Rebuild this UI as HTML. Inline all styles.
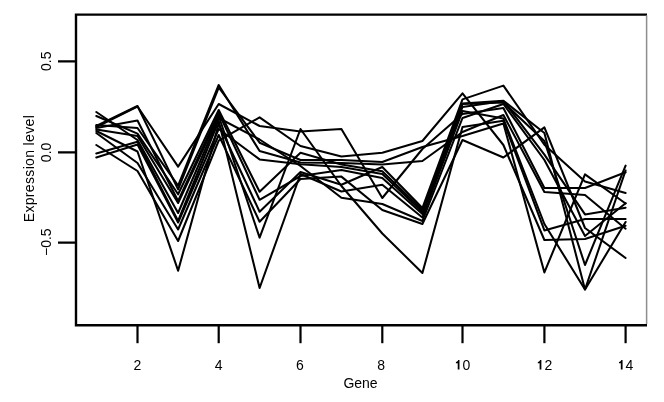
<!DOCTYPE html>
<html><head><meta charset="utf-8"><style>
html,body{margin:0;padding:0;background:#fff;}
body{width:664px;height:402px;overflow:hidden;position:relative;font-family:"Liberation Sans",sans-serif;}
svg{position:absolute;left:0;top:0;filter:grayscale(1);}
</style></head><body>
<svg width="664" height="402" viewBox="0 0 664 402">
<rect x="0" y="0" width="664" height="402" fill="#fff"/>
<g fill="none" stroke="#000" stroke-width="2.05" stroke-linejoin="round" stroke-linecap="round">
<polyline points="96.3,112.0 137.5,140.0 178.1,213.0 218.7,118.0 259.6,139.5 300.5,166.0 341.4,197.7 382.3,204.0 422.4,221.0 462.5,118.0 503.4,104.0 544.4,160.0 585.0,236.0 625.6,203.2"/>
<polyline points="96.3,116.0 137.5,133.6 178.1,194.3 218.7,110.0 259.6,191.8 300.5,152.7 341.4,164.6 382.3,171.3 422.4,210.0 462.5,103.5 503.4,100.7 544.4,133.0 585.0,289.5 625.6,170.5"/>
<polyline points="96.3,125.0 137.5,128.0 178.1,185.6 218.7,85.0 259.6,151.0 300.5,162.4 341.4,163.0 382.3,164.6 422.4,161.0 462.5,132.0 503.4,115.0 544.4,192.0 585.0,195.0 625.6,228.7"/>
<polyline points="96.3,126.0 137.5,106.0 178.1,189.4 218.7,87.5 259.6,142.7 300.5,160.0 341.4,160.0 382.3,162.0 422.4,147.0 462.5,136.0 503.4,123.5 544.4,272.4 585.0,174.4 625.6,203.5"/>
<polyline points="96.3,127.0 137.5,106.5 178.1,166.6 218.7,104.0 259.6,126.0 300.5,131.5 341.4,129.0 382.3,198.0 422.4,149.0 462.5,114.0 503.4,108.0 544.4,188.0 585.0,188.0 625.6,172.3"/>
<polyline points="96.3,128.0 137.5,120.5 178.1,201.0 218.7,113.0 259.6,199.8 300.5,176.0 341.4,170.0 382.3,178.0 422.4,214.0 462.5,107.0 503.4,101.0 544.4,154.6 585.0,214.4 625.6,207.7"/>
<polyline points="96.3,129.5 137.5,136.0 178.1,203.0 218.7,116.0 259.6,237.6 300.5,129.0 341.4,186.0 382.3,233.5 422.4,273.0 462.5,127.0 503.4,120.7 544.4,230.4 585.0,219.0 625.6,219.0"/>
<polyline points="96.3,131.0 137.5,151.5 178.1,270.7 218.7,124.0 259.6,211.7 300.5,172.0 341.4,184.8 382.3,167.0 422.4,208.0 462.5,99.4 503.4,85.6 544.4,144.7 585.0,181.6 625.6,193.0"/>
<polyline points="96.3,133.0 137.5,163.0 178.1,229.5 218.7,135.0 259.6,221.7 300.5,179.0 341.4,176.6 382.3,210.0 422.4,224.0 462.5,140.0 503.4,157.5 544.4,127.3 585.0,228.0 625.6,258.0"/>
<polyline points="96.3,145.0 137.5,171.0 178.1,241.0 218.7,140.6 259.6,117.4 300.5,146.0 341.4,156.4 382.3,152.7 422.4,141.0 462.5,93.4 503.4,145.0 544.4,240.0 585.0,239.0 625.6,225.7"/>
<polyline points="96.3,153.5 137.5,141.8 178.1,221.0 218.7,121.0 259.6,288.0 300.5,174.0 341.4,191.5 382.3,184.7 422.4,217.5 462.5,111.0 503.4,118.6 544.4,224.0 585.0,289.5 625.6,222.0"/>
<polyline points="96.3,157.5 137.5,144.6 178.1,222.5 218.7,129.0 259.6,159.4 300.5,164.3 341.4,167.0 382.3,174.0 422.4,212.0 462.5,104.0 503.4,102.4 544.4,141.0 585.0,265.0 625.6,165.6"/>
</g>
<g fill="none" stroke="#000" stroke-width="2.4">
<path d="M647,325.3 H76 V14.6 H647"/>
</g>
<path d="M646.6,15.5 V324" stroke="#8e8e8e" stroke-width="1.5" fill="none"/>
<g stroke="#000" stroke-width="2.2" fill="none">
<path d="M58,61.4 H76 M58,152.3 H76 M58,242.6 H76"/>
<path d="M137.5,325 V343.2"/> <path d="M218.7,325 V343.2"/> <path d="M300.5,325 V343.2"/> <path d="M382.3,325 V343.2"/> <path d="M462.5,325 V343.2"/> <path d="M544.4,325 V343.2"/> <path d="M625.6,325 V343.2"/>
</g>
<g style="font-family:'Liberation Sans',sans-serif" font-size="14" fill="#000">
<text x="137.5" y="369.8" text-anchor="middle">2</text> <text x="218.7" y="369.8" text-anchor="middle">4</text> <text x="300.0" y="369.8" text-anchor="middle">6</text> <text x="381.1" y="369.8" text-anchor="middle">8</text>
<text x="462.50" y="369.8">0</text><path transform="translate(454.72,369.6)" d="M3.0,0 L4.75,0 L4.75,-9.5 L3.45,-9.5 C3.2,-8.3 2.5,-7.7 1.2,-7.6 L1.2,-6.4 L3.0,-6.4 Z"/> <text x="544.40" y="369.8">2</text><path transform="translate(536.62,369.6)" d="M3.0,0 L4.75,0 L4.75,-9.5 L3.45,-9.5 C3.2,-8.3 2.5,-7.7 1.2,-7.6 L1.2,-6.4 L3.0,-6.4 Z"/> <text x="625.60" y="369.8">4</text><path transform="translate(617.82,369.6)" d="M3.0,0 L4.75,0 L4.75,-9.5 L3.45,-9.5 C3.2,-8.3 2.5,-7.7 1.2,-7.6 L1.2,-6.4 L3.0,-6.4 Z"/>
<text x="360.5" y="387.5" text-anchor="middle">Gene</text>
<text transform="translate(51,61.2) rotate(-90)" text-anchor="middle">0.5</text>
<text transform="translate(51,152.4) rotate(-90)" text-anchor="middle">0.0</text>
<text transform="translate(51,242.2) rotate(-90)" text-anchor="middle">&#8722;0.5</text>
<text transform="translate(33.5,168.6) rotate(-90)" text-anchor="middle" letter-spacing="0.34">Expression level</text>
</g>
</svg>
</body></html>
